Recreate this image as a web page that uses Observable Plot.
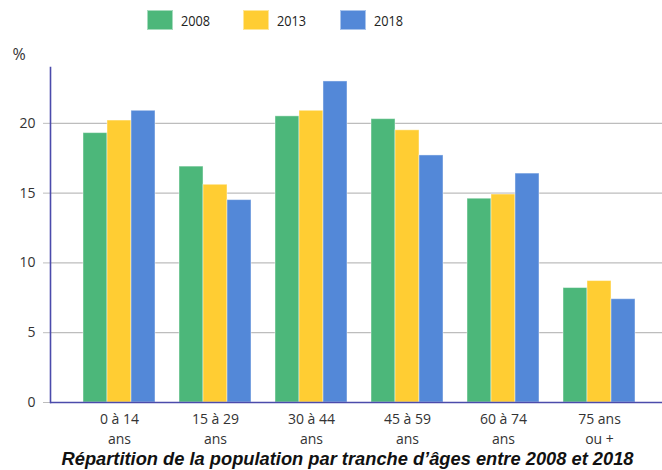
<!DOCTYPE html>
<html>
<head>
<meta charset="utf-8">
<script src="https://cdn.jsdelivr.net/npm/d3@7"></script>
<script src="https://cdn.jsdelivr.net/npm/@observablehq/plot@0.6"></script>
<style>
  html, body { margin: 0; padding: 0; background: #fff; overflow: hidden; }
  #wrap { width: 662px; position: relative; }
  #legend { height: 40px; display: flex; align-items: center; padding-left: 147px; box-sizing: border-box;
            font-family: "Open Sans", sans-serif; font-size: 15px; color: #222; }
  .item { display: flex; align-items: center; margin-right: 28px; }
  .sw { width: 26px; height: 20px; margin-right: 8px; box-sizing: border-box; border: 1px solid rgba(255,255,255,0.5); }
  .lab { display: inline-block; transform: scaleX(0.85); transform-origin: left center; }
  #caption { font-family: "Liberation Sans", Arial, sans-serif; font-weight: bold; font-style: italic;
             font-size: 18.3px; line-height: 20px; height: 20px; color: #111; text-align: center; padding-left: 33px; white-space: nowrap; }
  svg { display: block; }
</style>
</head>
<body>
<div id="wrap">
  <div id="legend"></div>
  <div id="chart"></div>
  <div id="caption">Répartition de la population par tranche d’âges entre 2008 et 2018</div>
</div>
<script>
const categories = ["0 à 14\nans", "15 à 29\nans", "30 à 44\nans", "45 à 59\nans", "60 à 74\nans", "75 ans\nou +"];
const years = ["2008", "2013", "2018"];
const values2008 = [19.3, 16.9, 20.5, 20.3, 14.6, 8.2];
const values2013 = [20.2, 15.6, 20.9, 19.5, 14.9, 8.7];
const values2018 = [20.9, 14.5, 23.0, 17.7, 16.4, 7.4];
const yTicks = [0, 5, 10, 15, 20];
const colors = ["#4cb77a", "#ffcd33", "#5388d8"];

const series = [values2008, values2013, values2018];
const data = categories.flatMap((c, i) => years.map((y, j) => ({cat: c, year: y, value: series[j][i]})));

// legend
const legend = document.getElementById("legend");
years.forEach((y, j) => {
  const it = document.createElement("div");
  it.className = "item";
  it.innerHTML = `<span class="sw" style="background:${colors[j]}"></span><span class="lab">${y}</span>`;
  legend.appendChild(it);
});

const xOptions = {type: "band", domain: categories, range: [50, 668], paddingInner: 0.253, paddingOuter: 0.333};
const bw = Plot.scale({x: xOptions}).bandwidth;
const sub = bw / years.length;

const chart = Plot.plot({
  width: 662,
  height: 409,
  marginLeft: 50,
  marginRight: 0,
  marginTop: 27,
  marginBottom: 47,
  style: {fontFamily: "'Open Sans', sans-serif", fontSize: "14px", color: "#333", background: "#fff"},
  x: {...xOptions, label: null},
  y: {domain: [0, 24], label: null},
  color: {domain: years, range: colors},
  marks: [
    Plot.gridY(yTicks.slice(1), {stroke: "#bdbdbd", strokeOpacity: 1, strokeWidth: 1.2}),
    ...years.map((yr, j) => Plot.barY(data.filter(d => d.year === yr), {
      x: "cat", y: "value", fill: "year",
      insetLeft: j * sub, insetRight: (years.length - 1 - j) * sub,
      stroke: "#ffffff", strokeOpacity: 0.45, strokeWidth: 1
    })),
    Plot.axisY({ticks: yTicks, tickSize: 7, tickPadding: 8, stroke: "#bdbdbd", strokeOpacity: 1, label: null}),
    Plot.ruleY([0], {stroke: "#4b4bab", strokeWidth: 1.6}),
    Plot.frame({anchor: "left", stroke: "#4b4bab", strokeWidth: 1.6}),
    Plot.text(["%"], {frameAnchor: "top-left", dx: -38, dy: -19, fontSize: 16, fill: "#333"}),
    Plot.axisX({tickSize: 0, tickPadding: 8, lineHeight: 1.4, fontSize: 14, label: null})
  ]
});
document.getElementById("chart").appendChild(chart);
</script>
</body>
</html>
